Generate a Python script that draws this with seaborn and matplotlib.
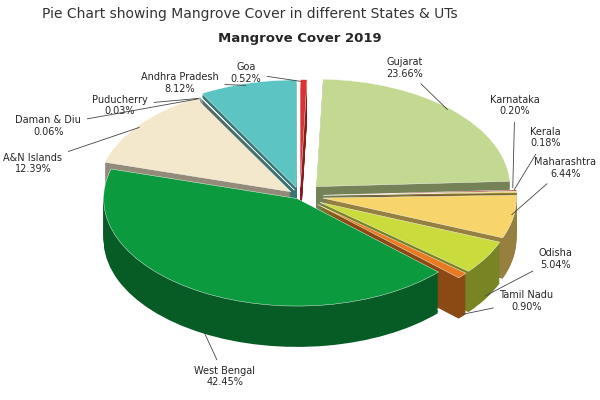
import matplotlib.pyplot as plt
import matplotlib.colors as mcolors
import numpy as np
import seaborn as sns

sns.set_theme(style="white")

states = ["Gujarat", "Karnataka", "Kerala", "Maharashtra", "Odisha", "Tamil Nadu",
          "West Bengal", "A&N Islands", "Daman & Diu", "Puducherry", "Andhra Pradesh", "Goa"]
shares = [23.66, 0.20, 0.18, 6.44, 5.04, 0.90, 42.45, 12.39, 0.06, 0.03, 8.12, 0.52]
colors = ["#c3d891", "#b03a2e", "#e8d84a", "#f8d56b", "#c9dc3c", "#e87a22",
          "#0c9a3f", "#f4e8cc", "#cfc3a8", "#5a8f8f", "#5cc5c4", "#e03131"]
explode = [0.12, 0.12, 0.12, 0.12, 0.12, 0.12, 0.03, 0.06, 0.06, 0.06, 0.08, 0.08]

fig = plt.figure(figsize=(6, 4), dpi=100)
ax = fig.add_axes([0, 0, 1, 0.86])

# side walls: stacked darker copies moving downward
dark = [mcolors.to_hex(np.array(mcolors.to_rgb(c)) * 0.6) for c in colors]
depth = 0.38
for i in range(30, 0, -1):
    ax.pie(shares, colors=dark, explode=explode, startangle=88, counterclock=False,
           center=(0, -depth * i / 30), radius=1.0, wedgeprops=dict(linewidth=0))
wedges, _ = ax.pie(shares, colors=colors, explode=explode, startangle=88,
                   counterclock=False, radius=1.0,
                   wedgeprops=dict(edgecolor="white", linewidth=0.3))

offsets = {"Gujarat": (0.54, 1.19), "Karnataka": (1.11, 0.84), "Kerala": (1.27, 0.54),
           "Maharashtra": (1.37, 0.26), "Odisha": (1.32, -0.59), "Tamil Nadu": (1.17, -0.98),
           "West Bengal": (-0.39, -1.68), "A&N Islands": (-1.38, 0.3),
           "Daman & Diu": (-1.3, 0.65), "Puducherry": (-0.93, 0.84),
           "Andhra Pradesh": (-0.62, 1.05), "Goa": (-0.28, 1.14)}
for w, s, v in zip(wedges, states, shares):
    ang = np.deg2rad((w.theta1 + w.theta2) / 2)
    cx, cy = w.center
    px, py = cx + np.cos(ang) * 0.98, cy + np.sin(ang) * 0.98
    if s in ("West Bengal", "Odisha", "Tamil Nadu"):
        py -= depth
    tx, ty = offsets[s]
    ax.annotate(f"{s}\n{v:.2f}%", xy=(px, py), xytext=(tx, ty), fontsize=7,
                ha="center", va="center",
                arrowprops=dict(arrowstyle="-", color="#444444", lw=0.6))

ax.set_aspect("auto")
ax.set_xlim(-1.55, 1.55)
ax.set_ylim(-1.9, 1.3)
ax.axis("off")

fig.text(0.07, 0.955, "Pie Chart showing Mangrove Cover in different States & UTs",
         fontsize=10, color="#333333")
fig.text(0.5, 0.895, "Mangrove Cover 2019", fontsize=9.5, fontweight="bold", ha="center")
fig.savefig("out.png", dpi=100)
